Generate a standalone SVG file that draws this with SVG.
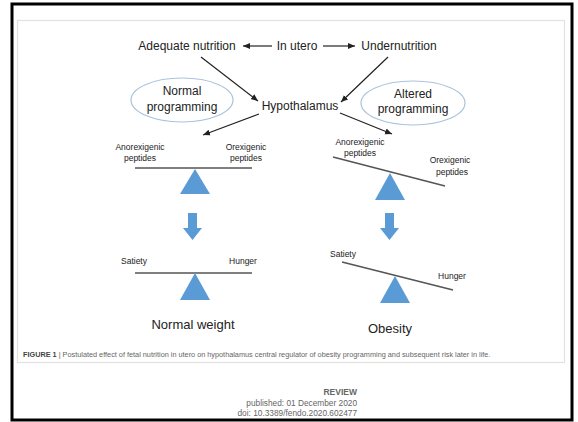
<svg xmlns="http://www.w3.org/2000/svg" width="578" height="422" viewBox="0 0 578 422">
<defs>
<style>
.t{font-family:"Liberation Sans",Arial,sans-serif;fill:#222;}
.m{font-size:12px;}
.s{font-size:8.5px;}
.b{font-size:13px;}
.c{stroke:#222;stroke-width:1.2;fill:none;}
.bar{stroke:#555;stroke-width:1.6;fill:none;}
.tri{fill:#5b9bd5;}
.ell{fill:#fff;stroke:#aac3dd;stroke-width:1.2;}
.g{font-family:"Liberation Sans",Arial,sans-serif;fill:#666;}
</style>
<marker id="ah" markerWidth="8" markerHeight="8" refX="7" refY="4" orient="auto" markerUnits="userSpaceOnUse">
<path d="M0,1 L7,4 L0,7 Z" fill="#222"/>
</marker>
</defs>
<rect x="0" y="0" width="578" height="422" fill="#fff"/>
<rect x="12" y="4" width="560" height="416" fill="none" stroke="#000" stroke-width="3"/>
<rect x="17.5" y="20.5" width="547" height="342" fill="#fff" stroke="#e2e2e2" stroke-width="1.2"/>

<g id="connectors">
<line class="c" x1="272" y1="46" x2="243" y2="46" marker-end="url(#ah)"/>
<line class="c" x1="323" y1="46" x2="355" y2="46" marker-end="url(#ah)"/>
<line class="c" x1="201" y1="57" x2="258" y2="101" marker-end="url(#ah)"/>
<line class="c" x1="388" y1="57" x2="341" y2="102" marker-end="url(#ah)"/>
<line class="c" x1="259" y1="114" x2="203" y2="135" marker-end="url(#ah)"/>
<line class="c" x1="340" y1="113" x2="392" y2="134" marker-end="url(#ah)"/>
</g>

<g id="adequate"><text class="t m" x="187" y="50" text-anchor="middle">Adequate nutrition</text></g>
<g id="inutero"><text class="t m" x="297" y="50" text-anchor="middle">In utero</text></g>
<g id="under"><text class="t m" x="399" y="50" text-anchor="middle">Undernutrition</text></g>

<g id="normalprog">
<ellipse class="ell" cx="182" cy="100" rx="51" ry="22"/>
<text class="t m" x="182" y="95" text-anchor="middle">Normal</text>
<text class="t m" x="182" y="111" text-anchor="middle">programming</text>
</g>
<g id="alteredprog">
<ellipse class="ell" cx="413" cy="103" rx="52" ry="22"/>
<text class="t m" x="413" y="98" text-anchor="middle">Altered</text>
<text class="t m" x="413" y="113" text-anchor="middle">programming</text>
</g>
<g id="hypothalamus"><text class="t m" x="300" y="110" text-anchor="middle">Hypothalamus</text></g>

<g id="left-peptides">
<text class="t s" x="140" y="150" text-anchor="middle">Anorexigenic</text>
<text class="t s" x="140" y="161" text-anchor="middle">peptides</text>
<text class="t s" x="246" y="150" text-anchor="middle">Orexigenic</text>
<text class="t s" x="246" y="161" text-anchor="middle">peptides</text>
<line class="bar" x1="135" y1="168" x2="252" y2="168"/>
<polygon class="tri" points="195,169 180,194 210,194"/>
</g>
<g id="left-arrow"><polygon class="tri" points="188,213 197,213 197,228 202,228 192.5,240 183,228 188,228"/></g>
<g id="left-hunger">
<text class="t s" x="134" y="264" text-anchor="middle">Satiety</text>
<text class="t s" x="243" y="264" text-anchor="middle">Hunger</text>
<line class="bar" x1="135" y1="273" x2="252" y2="273"/>
<polygon class="tri" points="195,273 180,300 210,300"/>
</g>
<g id="normalweight"><text class="t b" x="193" y="329" text-anchor="middle">Normal weight</text></g>

<g id="right-peptides">
<text class="t s" x="360" y="145" text-anchor="middle">Anorexigenic</text>
<text class="t s" x="360" y="156" text-anchor="middle">peptides</text>
<text class="t s" x="450" y="163" text-anchor="middle">Orexigenic</text>
<text class="t s" x="452" y="175" text-anchor="middle">peptides</text>
<line class="bar" x1="333" y1="157" x2="445" y2="186"/>
<polygon class="tri" points="390,173 375,200 405,200"/>
</g>
<g id="right-arrow"><polygon class="tri" points="385,213 394,213 394,228 399,228 389.5,240 380,228 385,228"/></g>
<g id="right-hunger">
<text class="t s" x="343" y="257" text-anchor="middle">Satiety</text>
<text class="t s" x="452" y="279" text-anchor="middle">Hunger</text>
<line class="bar" x1="342" y1="262" x2="453" y2="290"/>
<polygon class="tri" points="395,276 380,303 410,303"/>
</g>
<g id="obesity"><text class="t b" x="390" y="333" text-anchor="middle">Obesity</text></g>

<text class="g" x="23" y="357" font-size="7.3"><tspan font-weight="bold" fill="#444">FIGURE 1</tspan> | Postulated effect of fetal nutrition in utero on hypothalamus central regulator of obesity programming and subsequent risk later in life.</text>
<text class="g" x="357" y="395" font-size="8.5" font-weight="bold" text-anchor="end" fill="#555">REVIEW</text>
<text class="g" x="357" y="406" font-size="8.3" text-anchor="end">published: 01 December 2020</text>
<text class="g" x="357" y="416" font-size="8.3" text-anchor="end">doi: 10.3389/fendo.2020.602477</text>
</svg>
